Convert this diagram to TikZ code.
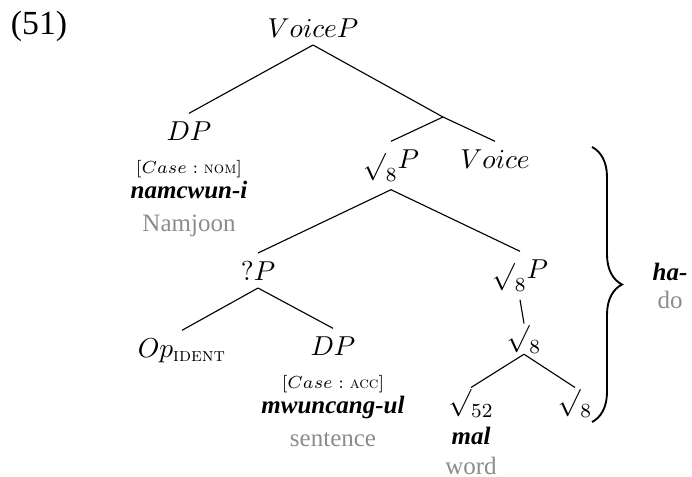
\documentclass[tikz,border=0pt]{standalone}
\usepackage{amsmath}
\usepackage{fontspec}
\newfontfamily\tms{Liberation Serif}
\usetikzlibrary{decorations.pathreplacing}

\newcommand{\casefeat}[1]{$[Case: \text{\fontsize{6.5}{7}\selectfont\textsc{#1}}]$}

\begin{document}
\begin{tikzpicture}[
  x=0.4pt, y=-0.4pt,
  cat/.style={anchor=base, inner xsep=0pt, inner ysep=3pt,
              font=\fontsize{11}{13}\selectfont},
  rt/.style={cat, inner ysep=0pt},
  feat/.style={anchor=base, inner sep=0pt, font=\fontsize{7}{8}\selectfont},
  word/.style={anchor=base, inner sep=0pt, font=\tms\bfseries\itshape},
  gloss/.style={anchor=base, inner sep=0pt, font=\tms, text=black!45},
  branch/.style={line width=0.45pt},
  span/.style={decorate, decoration={brace, amplitude=12pt}, line width=0.75pt}
]
\useasboundingbox (0,0) rectangle (692,476);

\node[anchor=base, inner sep=0pt, font=\tms\fontsize{13.5}{16}\selectfont] (exnum) at (39,34) {(51)};

% VoiceP and its subject
\node[cat] (voicep) at (313,37) {$VoiceP$};
\node[cat] (dpa) at (189,140) {$DP$};
\node[feat] (nom) at (189,173) {\casefeat{nom}};
\node[word] (namcwun) at (189,198) {namcwun-i};
\node[gloss] (namjoon) at (189,231) {Namjoon};
\coordinate (vbar) at (443,117);
\node[cat] (rootp) at (391,168) {$\sqrt{}_8P$};
\node[cat] (voice) at (495,168) {$Voice$};

% inside the root phrase
\node[cat] (qp) at (258,280) {$?P$};
\node[cat] (rootpb) at (520,278) {$\sqrt{}_8P$};
\node[cat] (op) at (182,357) {$Op_{\text{\textsc{ident}}}$};
\node[cat] (dpb) at (333,355) {$DP$};
\node[feat] (acc) at (333,388) {\casefeat{acc}};
\node[word] (mwuncang) at (333,413) {mwuncang-ul};
\node[gloss] (sentence) at (333,446) {sentence};
\node[rt] (rootm) at (524,340) {$\sqrt{}_8$};
\node[rt] (rootl) at (471,404) {$\sqrt{}_{52}$};
\node[word] (mal) at (471,444) {mal};
\node[gloss] (word) at (471,474) {word};
\node[rt] (rootr) at (575,404) {$\sqrt{}_8$};

% light verb spelled out over the lower part
\coordinate (bt) at (592,147);
\coordinate (bb) at (592,422);
\node[word] (ha) at (670,280) {ha-};
\node[gloss] (do) at (670,308) {do};

\draw[branch] (voicep.south) -- (dpa.north);
\draw[branch] (voicep.south) -- (vbar);
\draw[branch] (vbar) -- (rootp.north);
\draw[branch] (vbar) -- (voice.north);
\draw[branch] (rootp.south) -- (qp.north);
\draw[branch] (rootp.south) -- (rootpb.north);
\draw[branch] (qp.south) -- (op.north);
\draw[branch] (qp.south) -- (dpb.north);
\draw[branch] (rootpb.south) -- (rootm.north);
\draw[branch] (rootm.south) -- (rootl.north);
\draw[branch] (rootm.south) -- (rootr.north);

\draw[span] (bt) -- (bb);
\end{tikzpicture}
\end{document}
